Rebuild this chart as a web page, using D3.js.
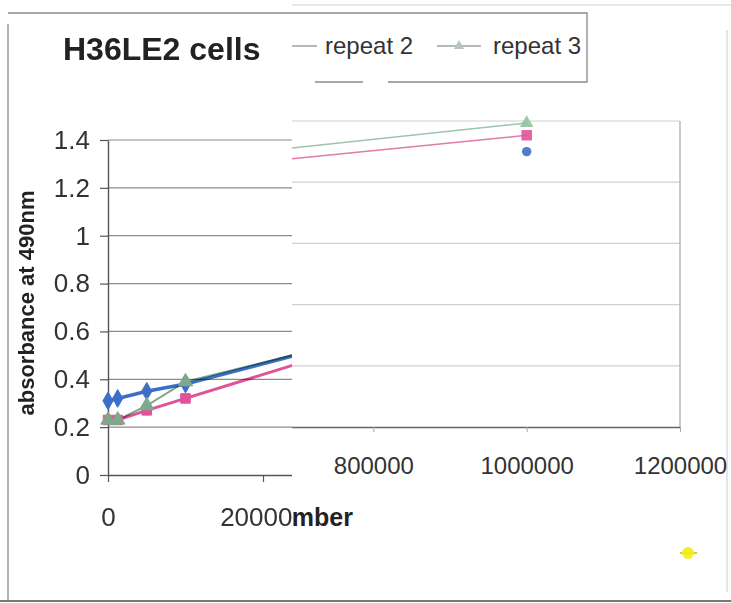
<!DOCTYPE html>
<html>
<head>
<meta charset="utf-8">
<script src="https://cdn.jsdelivr.net/npm/d3@7/dist/d3.min.js"></script>
<style>
  html, body { margin: 0; padding: 0; background: #fff; }
  svg { display: block; font-family: "Liberation Sans", Arial, sans-serif; }
</style>
</head>
<body>
<script>
// Absorbance at 490nm versus cell number, three repeats
const cellNumber = [0, 12500, 50000, 100000, 300000, 600000, 1000000];
const repeat1 = [0.31, 0.32, 0.35, 0.38, 0.55, null, 1.35];
const repeat2 = [0.23, 0.23, 0.27, 0.32, 0.52, 1.28, 1.43];
const repeat3 = [0.23, 0.23, 0.29, 0.39, 0.55, 1.33, 1.49];

const yTicks = [0, 0.2, 0.4, 0.6, 0.8, 1, 1.2, 1.4];
const yGridRight = [0.3, 0.6, 0.9, 1.2, 1.5];
const xTicks = [0, 200000, 400000, 600000, 800000, 1000000, 1200000];

const seriesNames = ["repeat 1", "repeat 2", "repeat 3"];
const seriesColors = ["#3d6fc9", "#e0529a", "#7ea88c"];
const seriesShapes = [d3.symbolDiamond, d3.symbolSquare, d3.symbolTriangle];

const series = [repeat1, repeat2, repeat3].map((vals, i) => ({
  name: seriesNames[i],
  color: seriesColors[i],
  shape: seriesShapes[i],
  points: cellNumber.map((x, j) => ({ x, y: vals[j] }))
}));

const W = 731, H = 603, split = 292;

const svg = d3.select("body").append("svg")
  .attr("width", W).attr("height", H);

svg.append("rect").attr("width", W).attr("height", H).attr("fill", "#fff");

const defs = svg.append("defs");
defs.append("clipPath").attr("id", "clipL")
  .append("rect").attr("x", 0).attr("y", 0).attr("width", split).attr("height", H);
defs.append("clipPath").attr("id", "clipR")
  .append("rect").attr("x", split).attr("y", 0).attr("width", W - split).attr("height", H);

/* ---------- left section: labelled axes ---------- */
const L = svg.append("g").attr("clip-path", "url(#clipL)");

const xL = d3.scaleLinear().domain([0, 1200000]).range([108, 1038]);
const yL = d3.scaleLinear().domain([0, 1.4]).range([475, 140]);

// chart frame
L.append("line").attr("x1", 8).attr("x2", W).attr("y1", 13).attr("y2", 13)
  .attr("stroke", "#8a8a8a").attr("stroke-width", 1.3);
L.append("line").attr("x1", 8).attr("x2", 8).attr("y1", 24).attr("y2", 601)
  .attr("stroke", "#8a8a8a").attr("stroke-width", 1.3);
L.append("line").attr("x1", 0).attr("x2", W).attr("y1", 601).attr("y2", 601)
  .attr("stroke", "#777").attr("stroke-width", 2);

// horizontal gridlines
L.append("g").selectAll("line")
  .data(yTicks.filter(d => d > 0))
  .join("line")
  .attr("x1", xL(0)).attr("x2", xL(1200000))
  .attr("y1", d => yL(d)).attr("y2", d => yL(d))
  .attr("stroke", "#8c8c8c").attr("stroke-width", 1.2);

const yAxisL = L.append("g")
  .attr("transform", `translate(${xL(0)},0)`)
  .call(d3.axisLeft(yL).tickValues(yTicks).tickSize(8).tickSizeOuter(0)
    .tickPadding(10).tickFormat(d3.format("~g")));
const xAxisL = L.append("g")
  .attr("transform", `translate(0,${yL(0)})`)
  .call(d3.axisBottom(xL).tickValues(xTicks.filter(d => xL(d) < split))
    .tickSize(7).tickSizeOuter(0)
    .tickPadding(26).tickFormat(d3.format("d")));
[yAxisL, xAxisL].forEach(a => {
  a.select(".domain").attr("stroke", "#555").attr("stroke-width", 1.4);
  a.selectAll(".tick line").attr("stroke", "#555").attr("stroke-width", 1.2);
  a.selectAll(".tick text").attr("fill", "#333").attr("font-size", 26);
});

// title and y-axis title
L.append("text").attr("x", 63).attr("y", 60)
  .attr("font-size", 32).attr("font-weight", "bold").attr("fill", "#222")
  .text("H36LE2 cells");
L.append("text")
  .attr("transform", "translate(34,303) rotate(-90)")
  .attr("text-anchor", "middle")
  .attr("font-size", 22).attr("font-weight", "bold").attr("fill", "#222")
  .text("absorbance at 490nm");

const lineL = d3.line().defined(d => d.y != null).x(d => xL(d.x)).y(d => yL(d.y));
const lineWidthL = [3.5, 3, 2];
const gSeriesL = L.append("g");
series.forEach((s, i) => {
  gSeriesL.append("path").datum(s.points)
    .attr("d", lineL).attr("fill", "none")
    .attr("stroke", s.color).attr("stroke-width", lineWidthL[i])
    .style("mix-blend-mode", "multiply");
});
series.forEach((s) => {
  gSeriesL.append("g").selectAll("path")
    .data(s.points.filter(d => d.y != null))
    .join("path")
    .attr("transform", d => `translate(${xL(d.x)},${yL(d.y)})`)
    .attr("d", d3.symbol().type(s.shape).size(90))
    .attr("fill", s.color).attr("stroke", s.color).attr("stroke-width", 1);
});

/* ---------- right section ---------- */
const R = svg.append("g").attr("clip-path", "url(#clipR)");
R.append("rect").attr("x", split).attr("y", 0).attr("width", W - split).attr("height", H)
  .attr("fill", "#fff");

const xR = d3.scaleLinear().domain([0, 1200000]).range([-240, 680]);
const yR = d3.scaleLinear().domain([0, 1.5]).range([427, 121]);

// frame pieces
R.append("line").attr("x1", 200).attr("x2", W).attr("y1", 5).attr("y2", 5)
  .attr("stroke", "#d2d2d2").attr("stroke-width", 1.2);
R.append("line").attr("x1", 727).attr("x2", 727).attr("y1", 30).attr("y2", 592)
  .attr("stroke", "#d4d4d4").attr("stroke-width", 1.2);
R.append("line").attr("x1", 0).attr("x2", W).attr("y1", 601).attr("y2", 601)
  .attr("stroke", "#777").attr("stroke-width", 2);

// gridlines and plot border
R.append("g").selectAll("line")
  .data(yGridRight)
  .join("line")
  .attr("x1", xR(0)).attr("x2", xR(1200000))
  .attr("y1", d => yR(d)).attr("y2", d => yR(d))
  .attr("stroke", "#cfcfcf").attr("stroke-width", 1.2);
R.append("line")
  .attr("x1", xR(1200000)).attr("x2", xR(1200000))
  .attr("y1", yR(1.5)).attr("y2", yR(0))
  .attr("stroke", "#a8a8a8").attr("stroke-width", 1.2);

const xAxisR = R.append("g")
  .attr("transform", `translate(0,${yR(0)})`)
  .call(d3.axisBottom(xR).tickValues(xTicks.filter(d => xR(d) > split + 45))
    .tickSize(5).tickSizeOuter(0)
    .tickPadding(25).tickFormat(d3.format("d")));
xAxisR.select(".domain").attr("stroke", "#666").attr("stroke-width", 1.4);
xAxisR.selectAll(".tick line").attr("stroke", "#aaa");
xAxisR.selectAll(".tick text").attr("fill", "#333").attr("font-size", 24);

R.append("text").attr("x", 353).attr("y", 526).attr("text-anchor", "end")
  .attr("font-size", 25).attr("font-weight", "bold").attr("fill", "#222")
  .text("cell number");

const lineR = d3.line().defined(d => d.y != null).x(d => xR(d.x)).y(d => yR(d.y));
const lightColors = ["#6f94d6", "#e07aa8", "#9cc4a8"];
series.forEach((s, i) => {
  R.append("path").datum(s.points)
    .attr("d", lineR).attr("fill", "none")
    .attr("stroke", lightColors[i]).attr("stroke-width", 1.5);
});
const markerSizeR = [70, 110, 80];
series.forEach((s, i) => {
  R.append("g").selectAll("path")
    .data(s.points.filter(d => d.y != null))
    .join("path")
    .attr("transform", d => `translate(${xR(d.x)},${yR(d.y)})`)
    .attr("d", d3.symbol().type(i === 0 ? d3.symbolCircle : s.shape).size(markerSizeR[i]))
    .attr("fill", i === 2 ? "#8fc29e" : s.color).attr("opacity", 0.9);
});

// legend box with the entries that sit right of the title
const legend = R.append("g");
legend.append("path")
  .attr("d", "M200,13H587V82H388M363,82H315")
  .attr("fill", "none").attr("stroke", "#8a8a8a").attr("stroke-width", 1.3);
const legendItems = [
  { s: series[1], x0: 278, x1: 317, tx: 325, marker: false },
  { s: series[2], x0: 437, x1: 481, tx: 493, marker: true }
];
legendItems.forEach((it) => {
  legend.append("line").attr("x1", it.x0).attr("x2", it.x1).attr("y1", 46).attr("y2", 46)
    .attr("stroke", "#a0a0a0").attr("stroke-width", 1.5);
  if (it.marker) {
    legend.append("path")
      .attr("transform", `translate(${(it.x0 + it.x1) / 2},46)`)
      .attr("d", d3.symbol().type(it.s.shape).size(45))
      .attr("fill", "#b5c8b8");
  }
  legend.append("text").attr("x", it.tx).attr("y", 54)
    .attr("font-size", 24).attr("fill", "#333")
    .text(it.s.name);
});

// stray yellow mark near the lower right corner
R.append("line").attr("x1", 680).attr("x2", 697).attr("y1", 553).attr("y2", 553)
  .attr("stroke", "#c9b800").attr("stroke-width", 1.5);
R.append("circle").attr("cx", 688).attr("cy", 553).attr("r", 6)
  .attr("fill", "#f2ee10").attr("opacity", 0.9);
</script>
</body>
</html>
